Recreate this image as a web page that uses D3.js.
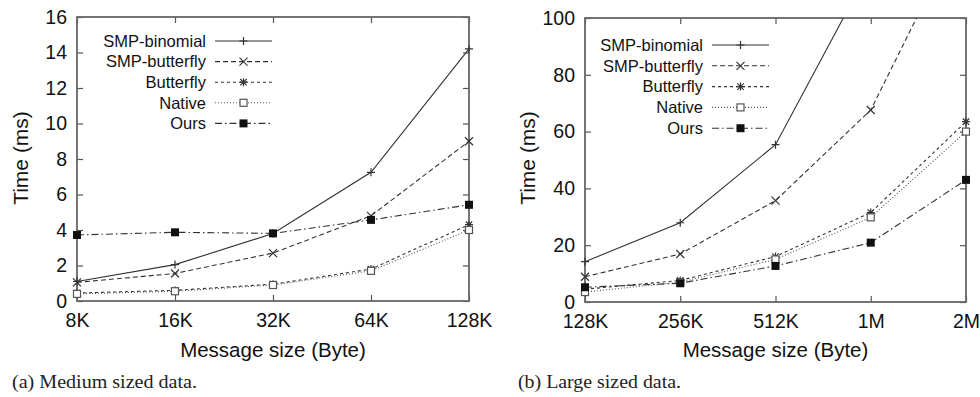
<!DOCTYPE html>
<html><head><meta charset="utf-8">
<script src="https://cdn.jsdelivr.net/npm/d3@7"></script>
<style>body{margin:0;background:#fff}svg{display:block}</style>
</head><body>
<svg id="c" width="980" height="397"></svg>
<script>
const seriesNames = ["SMP-binomial","SMP-butterfly","Butterfly","Native","Ours"];
const catsA = ["8K","16K","32K","64K","128K"];
const catsB = ["128K","256K","512K","1M","2M"];
const ticksA = [0,2,4,6,8,10,12,14,16];
const ticksB = [0,20,40,60,80,100];
const smpBinomialA = [1.1,2.05,3.8,7.25,14.2];
const smpButterflyA = [1.05,1.55,2.7,4.8,9.0];
const butterflyA = [0.45,0.6,0.95,1.8,4.3];
const nativeA = [0.4,0.55,0.9,1.7,4.0];
const oursA = [3.72,3.87,3.81,4.57,5.42];
const smpBinomialB = [14.2,27.9,55.4,118,240];
const smpButterflyB = [8.9,16.9,35.7,67.6,135];
const butterflyB = [4.5,7.6,16,31.5,63.5];
const nativeB = [3.5,7.0,15,29.8,60];
const oursB = [5.2,6.6,12.7,20.9,43];

const styles = [
  {dash:null, col:"#333", mk:"plus"},
  {dash:"5,3", col:"#333", mk:"cross"},
  {dash:"3,3", col:"#333", mk:"star"},
  {dash:"1,2", col:"#555", mk:"osq"},
  {dash:"7,3,1.5,3", col:"#333", mk:"fsq"}
];

const svg = d3.select("#c");
const FONT = "'Liberation Sans', Arial, sans-serif";

function marker(g, type, x, y, col){
  const s = 4;
  if(type==="plus"||type==="star"){
    g.append("path").attr("d",`M${x-s},${y}H${x+s}M${x},${y-s}V${y+s}`).attr("stroke",col).attr("stroke-width",1.2);
  }
  if(type==="cross"||type==="star"){
    const t = type==="star"?3.2:4;
    g.append("path").attr("d",`M${x-t},${y-t}L${x+t},${y+t}M${x-t},${y+t}L${x+t},${y-t}`).attr("stroke",col).attr("stroke-width",1.2);
  }
  if(type==="osq"){
    g.append("rect").attr("x",x-3.5).attr("y",y-3.5).attr("width",7).attr("height",7).attr("fill","#fff").attr("stroke",col).attr("stroke-width",1.2);
  }
  if(type==="fsq"){
    g.append("rect").attr("x",x-4).attr("y",y-4).attr("width",8).attr("height",8).attr("fill","#111");
  }
}

function panel(o){
  const g = svg.append("g");
  const x = d3.scalePoint().domain(o.cats).range([o.x0,o.x1]);
  const y = d3.scaleLinear().domain([0,o.ymax]).range([o.y1,o.y0]);
  const clipId = "clip"+o.id;
  svg.append("clipPath").attr("id",clipId).append("rect")
    .attr("x",o.x0-6).attr("y",o.y0).attr("width",o.x1-o.x0+12).attr("height",o.y1-o.y0+6);

  const axL = d3.axisLeft(y).tickValues(o.yt).tickSize(-6).tickPadding(10).tickFormat(d3.format("d"));
  const axR = d3.axisRight(y).tickValues(o.yt).tickSize(-6).tickFormat("");
  const axB = d3.axisBottom(x).tickSize(-6).tickPadding(12);
  const axT = d3.axisTop(x).tickSize(-6).tickFormat("");
  [[axL,`translate(${o.x0},0)`],[axR,`translate(${o.x1},0)`],[axB,`translate(0,${o.y1})`],[axT,`translate(0,${o.y0})`]].forEach(([a,t])=>{
    const ag = g.append("g").attr("transform",t).call(a);
    ag.select(".domain").remove();
    ag.selectAll(".tick line").attr("stroke","#555").attr("stroke-width",1.2);
    ag.selectAll("text").attr("font-family",FONT).attr("font-size",19.5).attr("fill","#111");
  });
  g.append("rect").attr("x",o.x0).attr("y",o.y0).attr("width",o.x1-o.x0).attr("height",o.y1-o.y0)
    .attr("fill","none").attr("stroke","#666").attr("stroke-width",1.8);

  const data = o.series;
  const line = d3.line().x((d,i)=>x(o.cats[i])).y(d=>y(d));
  const lg = g.append("g").attr("clip-path",`url(#${clipId})`);
  data.forEach((vals,si)=>{
    const st = styles[si];
    lg.append("path").attr("d",line(vals)).attr("fill","none").attr("stroke",st.col)
      .attr("stroke-width",1.1).attr("stroke-dasharray",st.dash);
  });
  data.forEach((vals,si)=>{
    const st = styles[si];
    vals.forEach((v,i)=>{ if(v<=o.ymax) marker(lg, st.mk, x(o.cats[i]), y(v), st.col); });
  });

  seriesNames.forEach((n,si)=>{
    const ly = o.ly0 + si*o.lstep;
    const st = styles[si];
    g.append("text").attr("x",o.lt).attr("y",ly).attr("dy","0.35em").attr("text-anchor","end")
      .attr("font-family",FONT).attr("font-size",16.5).attr("fill","#111").text(n);
    g.append("line").attr("x1",o.lt+9).attr("x2",o.lt+66).attr("y1",ly).attr("y2",ly)
      .attr("stroke",st.col).attr("stroke-width",1.1).attr("stroke-dasharray",st.dash);
    marker(g, st.mk, o.lt+37.5, ly, st.col);
  });

  g.append("text").attr("x",(o.x0+o.x1)/2).attr("y",357).attr("text-anchor","middle")
    .attr("font-family",FONT).attr("font-size",20.5).attr("fill","#111").text("Message size (Byte)");
  g.append("text").attr("transform",`translate(${o.tx},158) rotate(-90)`).attr("text-anchor","middle").attr("dy","0.35em")
    .attr("font-family",FONT).attr("font-size",21).attr("fill","#111").text("Time (ms)");
  g.append("text").attr("x",o.capx).attr("y",388).attr("font-family","'Liberation Serif','Times New Roman',serif")
    .attr("font-size",18.5).attr("fill","#222").attr("textLength",o.capw).attr("lengthAdjust","spacingAndGlyphs").text(o.cap);
}

panel({id:"a",cats:catsA,ymax:16,yt:ticksA,x0:77,x1:469,y0:17,y1:301,
  series:[smpBinomialA,smpButterflyA,butterflyA,nativeA,oursA],
  lt:206,ly0:41,lstep:20.6,tx:21,capx:12,capw:185,cap:"(a) Medium sized data."});
panel({id:"b",cats:catsB,ymax:100,yt:ticksB,x0:585,x1:966,y0:18,y1:302,
  series:[smpBinomialB,smpButterflyB,butterflyB,nativeB,oursB],
  lt:703,ly0:45,lstep:20.8,tx:528,capx:518,capw:163,cap:"(b) Large sized data."});
</script>
</body></html>
